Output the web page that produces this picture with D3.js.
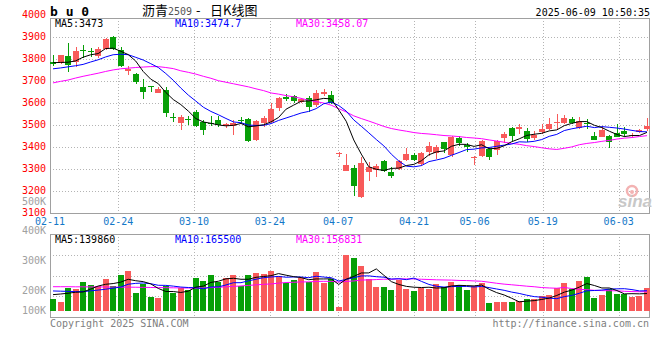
<!DOCTYPE html>
<html><head><meta charset="utf-8">
<script src="https://cdn.jsdelivr.net/npm/d3@7/dist/d3.min.js"></script>
<style>body{margin:0;background:#fff}svg{display:block}</style>
</head><body><svg id="c" width="660" height="360"></svg>
<script>
const dates = ["02-11","02-12","02-13","02-14","02-17","02-18","02-19","02-20","02-21","02-24","02-25","02-26","02-27","02-28",
"03-03","03-04","03-05","03-06","03-07","03-10","03-11","03-12","03-13","03-14","03-17","03-18","03-19","03-20","03-21","03-24","03-25","03-26","03-27","03-28","03-31",
"04-01","04-02","04-03","04-07","04-08","04-09","04-10","04-11","04-14","04-15","04-16","04-17","04-18","04-21","04-22","04-23","04-24","04-25","04-28","04-29","04-30",
"05-06","05-07","05-08","05-09","05-12","05-13","05-14","05-15","05-16","05-19","05-20","05-21","05-22","05-23","05-26","05-27","05-28","05-29","05-30",
"06-03","06-04","06-05","06-06","06-09"];
const opens = [3787,3779,3814,3786,3838,3833,3812,3842,3900,3838,3745,3730,3672,3676,3645,3657,3535,3509,3525,3559,
3513,3508,3521,3494,3495,3523,3524,3430,3509,3514,3574,3627,3630,3604,3623,3589,3638,3635,3368,3291,
3302,3173,3286,3294,3335,3286,3297,3339,3362,3321,3377,3370,3421,3362,3441,3408,3349,3358,3389,3385,
3438,3486,3480,3471,3441,3465,3479,3506,3509,3524,3483,3508,3448,3445,3448,3461,3471,3452,3468,3479];
const highs = [3818,3818,3870,3855,3862,3848,3855,3892,3902,3851,3768,3735,3710,3678,3672,3670,3555,3544,3539,3567,
3521,3539,3539,3509,3521,3533,3529,3522,3539,3600,3627,3639,3633,3620,3630,3657,3662,3653,3378,3367,
3317,3352,3332,3320,3339,3309,3339,3392,3373,3377,3423,3408,3423,3448,3448,3415,3358,3430,3392,3430,
3468,3491,3503,3486,3471,3503,3529,3548,3544,3533,3533,3524,3468,3495,3453,3503,3491,3461,3479,3529];
const lows = [3768,3776,3738,3764,3801,3810,3801,3840,3840,3762,3726,3685,3615,3650,3642,3536,3514,3476,3498,3488,
3453,3494,3491,3483,3453,3506,3423,3428,3491,3506,3564,3609,3597,3597,3559,3579,3630,3594,3355,3291,
3177,3165,3245,3264,3286,3256,3294,3336,3336,3312,3358,3342,3370,3355,3403,3377,3317,3355,3339,3362,
3418,3426,3458,3423,3430,3458,3476,3479,3503,3501,3480,3479,3430,3442,3392,3442,3445,3442,3461,3473];
const closes = [3775,3815,3773,3836,3835,3830,3842,3888,3844,3765,3755,3695,3650,3670,3663,3555,3533,3536,3522,3494,
3476,3504,3498,3502,3506,3519,3427,3518,3529,3571,3620,3615,3609,3617,3579,3645,3648,3597,3370,3317,
3221,3327,3309,3312,3291,3267,3335,3367,3339,3373,3403,3400,3389,3445,3418,3400,3355,3426,3355,3426,
3458,3448,3491,3433,3453,3479,3503,3514,3529,3506,3518,3504,3430,3476,3423,3445,3456,3454,3476,3494];
const volumes = [87000,67000,194000,180000,246000,216000,210000,274000,214000,311000,
347000,145000,231000,111000,102000,207000,142000,188000,173000,286000,
255000,311000,242000,283000,311000,210000,311000,332000,320000,349000,
306000,237000,265000,280000,249000,341000,237000,271000,19000,494000,
467000,395000,274000,203000,203000,173000,265000,186000,165000,189000,
186000,228000,198000,249000,217000,173000,214000,240000,53000,64000,
64000,64000,74000,87000,87000,118000,127000,193000,240000,179000,
257000,292000,102000,127000,179000,139000,139000,111000,119000,193000];
// moving-average values before enough history exists in the window
const ma5Head = [3782,3783,3784,3790];
const ma10Head = [3754,3758,3763,3768,3774,3785,3795,3808,3818];
const ma30Head = [3690,3697,3703,3712,3720,3727,3734,3742,3749,3754,3757,3760,3762,3764,3764,3760,3755,3745,3738,3730,3720,3711,3700,3693,3686,3679,3672,3663,3655];
const vma5Head = [130000,136000,143000,152000];
const vma10Head = [164000,162000,160000,158000,158000,165000,172000,180000,190000];
const vma30Head = [203000,203000,203000,202000,202000,201000,201000,200000,200000,199000,199000,198000,197000,196000,195000,194000,193000,192000,191000,190000,192000,195000,198000,202000,206000,210000,215000,220000,225000];
const priceTicks = [3100,3200,3300,3400,3500,3600,3700,3800,3900,4000];
const volTicks = [500000,400000,300000,200000,100000];
const volTickLabels = ["500K","400K","300K","200K","100K"];
const xTickLabels = ["02-11","02-24","03-10","03-24","04-07","04-21","05-06","05-19","06-03"];
const title = {code:"b u 0", name:"沥青", num:"2509", dash:"-", tail:"日K线图", time:"2025-06-09 10:50:35"};
const priceLegend = ["MA5:3473","MA10:3474.7","MA30:3458.07"];
const volLegend = ["MA5:139860","MA10:165500","MA30:156831"];

function movAvg(arr, n, head){
  return arr.map((v,i)=> i < n-1 ? head[i] : d3.mean(arr.slice(i-n+1,i+1)));
}
const ma5 = movAvg(closes,5,ma5Head), ma10 = movAvg(closes,10,ma10Head), ma30 = movAvg(closes,30,ma30Head);
const vma5 = movAvg(volumes,5,vma5Head), vma10 = movAvg(volumes,10,vma10Head), vma30 = movAvg(volumes,30,vma30Head);

const L=50, R=649, PT=18, PB=213, VT=234, VB=317, VBASE=310.7;
const RED="#f85a5a", GREEN="#079f07", MONO="'DejaVu Sans Mono', monospace";
const svg = d3.select("#c");
const xb = d3.scaleBand().domain(dates).range([L, L+600]).paddingInner(0.2).paddingOuter(0);
const xg = d3.scalePoint().domain(dates).range([L, R]);
const y = d3.scaleLinear().domain([3100,4000]).range([212.7,14.7]);
const yv = d3.scaleLinear().domain([0,500000]).range([308.8, 308.8-500000/9190]);
const cx = d => xb(d) + xb.bandwidth()/2;

// grids
const grid = svg.append("g").attr("stroke","#b4b4b4").attr("stroke-dasharray","1,2").attr("shape-rendering","crispEdges");
priceTicks.filter(t=>t>3100 && t<4000).forEach(t=>{
  grid.append("line").attr("x1",L).attr("x2",R).attr("y1",Math.round(y(t))+0.5).attr("y2",Math.round(y(t))+0.5);
});
[1,2,3].forEach(k=>{
  const yy = Math.round(VT + (VB-VT)*k/4)+0.5;
  grid.append("line").attr("x1",L).attr("x2",R).attr("y1",yy).attr("y2",yy);
});
xTickLabels.slice(1).forEach(d=>{
  const xx = Math.round(xg(d))+0.5;
  grid.append("line").attr("x1",xx).attr("x2",xx).attr("y1",PT).attr("y2",PB);
  grid.append("line").attr("x1",xx).attr("x2",xx).attr("y1",VT).attr("y2",VB);
});

// panel frames
const frame = svg.append("g").attr("fill","none").attr("stroke","#a0a0a0").attr("shape-rendering","crispEdges");
frame.append("rect").attr("x",L+0.5).attr("y",PT+0.5).attr("width",R-L).attr("height",PB-PT);
frame.append("rect").attr("x",L+0.5).attr("y",VT+0.5).attr("width",R-L).attr("height",VB-VT);

// watermark
const wm = svg.append("g");
wm.append("circle").attr("cx",632).attr("cy",191).attr("r",5).attr("fill","none").attr("stroke","#f3b3b3").attr("stroke-width",2.5);
wm.append("circle").attr("cx",632).attr("cy",192).attr("r",2).attr("fill","#f3b3b3");
wm.append("text").attr("x",652).attr("y",207).attr("text-anchor","end").attr("font-family","Arial, 'Liberation Sans', sans-serif")
  .attr("font-style","italic").attr("font-weight","bold").attr("font-size",17).attr("fill","#c8c8c8").text("sina");

// candles
const cg = svg.append("g").attr("shape-rendering","crispEdges");
dates.forEach((d,i)=>{
  const up = closes[i] >= opens[i];
  const col = up ? RED : GREEN;
  const xx = Math.round(cx(d))+0.5;
  cg.append("line").attr("x1",xx).attr("x2",xx).attr("y1",y(highs[i])).attr("y2",y(lows[i])).attr("stroke",col);
  const top = y(Math.max(opens[i],closes[i])), bot = y(Math.min(opens[i],closes[i]));
  cg.append("rect").attr("x",Math.round(xb(d))).attr("y",top).attr("width",xb.bandwidth()).attr("height",Math.max(1,bot-top)).attr("fill",col);
});
// volume bars
dates.forEach((d,i)=>{
  const col = closes[i] >= opens[i] ? RED : GREEN;
  const top = yv(volumes[i]);
  cg.append("rect").attr("x",Math.round(xb(d))).attr("y",top).attr("width",xb.bandwidth()).attr("height",VBASE-top).attr("fill",col);
});

// MA lines
function maLine(vals, scale, color){
  svg.append("path").datum(vals).attr("fill","none").attr("stroke",color).attr("stroke-width",1)
    .attr("d", d3.line().x((v,i)=>cx(dates[i])).y(v=>scale(v)));
}
maLine(ma30,y,"#ff00ff"); maLine(ma10,y,"#0000ff"); maLine(ma5,y,"#000000");
maLine(vma30,yv,"#ff00ff"); maLine(vma10,yv,"#0000ff"); maLine(vma5,yv,"#000000");

// axis labels
const ax = svg.append("g").attr("font-family",MONO).attr("font-size",10);
priceTicks.forEach(t=>{
  ax.append("text").attr("x",46).attr("y",y(t)).attr("dy","0.35em").attr("text-anchor","end").attr("fill","#ff0000").text(t);
});
const volLabelY = d3.scaleLinear().domain([500000,200000]).range([201,290.7]);
volTicks.forEach((v,k)=>{
  ax.append("text").attr("x",46).attr("y",Math.min(310,volLabelY(v))).attr("dy","0.35em").attr("text-anchor","end").attr("fill","#a0a0a0").text(volTickLabels[k]);
});
xTickLabels.forEach(d=>{
  ax.append("text").attr("x",xg(d)).attr("y",221.5).attr("dy","0.35em").attr("text-anchor","middle").attr("fill","#1478c8").text(d);
});

// legends
const cols = ["#000000","#0000ff","#ff00ff"], lx=[55,175,296];
priceLegend.forEach((t,k)=> ax.append("text").attr("x",lx[k]).attr("y",23.5).attr("dy","0.35em").attr("fill",cols[k]).text(t));
volLegend.forEach((t,k)=> ax.append("text").attr("x",lx[k]).attr("y",239.5).attr("dy","0.35em").attr("fill",cols[k]).text(t));

// header
svg.append("text").attr("x",50).attr("y",16).attr("font-family",MONO).attr("font-weight","bold").attr("font-size",13).attr("fill","#000").text(title.code);
const tt = svg.append("text").attr("y",15).attr("font-family","'Noto Sans CJK SC', sans-serif").attr("font-size",13).attr("fill","#000");
tt.append("tspan").attr("x",142).text(title.name);
tt.append("tspan").attr("x",168).attr("fill","#555").attr("font-family",MONO).attr("font-size",10).text(title.num);
tt.append("tspan").attr("x",196).text(title.dash);
tt.append("tspan").attr("x",210).text(title.tail);
svg.append("text").attr("x",650).attr("y",16).attr("text-anchor","end").attr("font-family",MONO).attr("font-size",10).attr("fill","#000").text(title.time);

// footer
svg.append("text").attr("x",50).attr("y",327).attr("font-family",MONO).attr("font-size",10).attr("fill","#808080").text("Copyright 2025 SINA.COM");
svg.append("text").attr("x",649).attr("y",327).attr("text-anchor","end").attr("font-family",MONO).attr("font-size",10).attr("fill","#808080").text("http://finance.sina.com.cn");
</script></body></html>
